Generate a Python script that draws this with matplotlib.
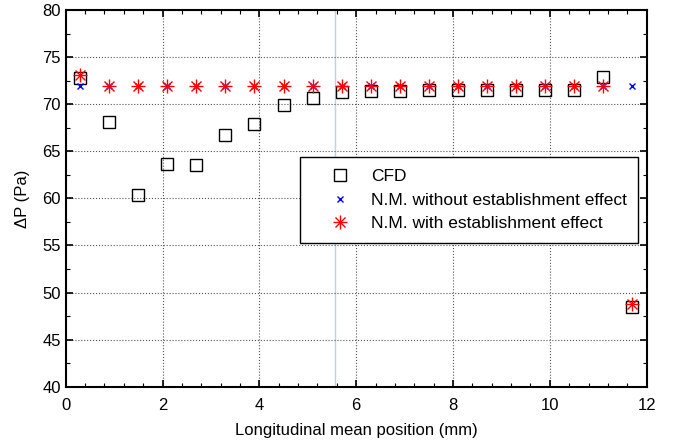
import matplotlib
matplotlib.use("Agg")
import matplotlib.pyplot as plt
from matplotlib.ticker import MultipleLocator
from matplotlib.lines import Line2D
from matplotlib.legend_handler import HandlerBase

plt.rcParams['font.family'] = ['Liberation Sans', 'DejaVu Sans']

x = [0.3, 0.9, 1.5, 2.1, 2.7, 3.3, 3.9, 4.5, 5.1, 5.7, 6.3, 6.9, 7.5, 8.1, 8.7, 9.3, 9.9, 10.5, 11.1, 11.7]
cfd = [72.8, 68.1, 60.4, 63.6, 63.5, 66.7, 67.9, 69.9, 70.7, 71.3, 71.4, 71.4, 71.5, 71.5, 71.5, 71.5, 71.5, 71.5, 72.85, 48.5]
nm_without = [71.9, 71.9, 71.9, 71.9, 71.9, 71.9, 71.9, 71.9, 71.9, 71.9, 71.9, 71.9, 71.9, 71.9, 71.9, 71.9, 71.9, 71.9, 71.9, 71.9]
nm_with = [73.1, 71.9, 71.9, 71.9, 71.9, 71.9, 71.9, 71.9, 71.9, 71.9, 71.9, 71.9, 71.9, 71.9, 71.9, 71.9, 71.9, 71.9, 71.9, 48.75]
labels = ['CFD', 'N.M. without establishment effect', 'N.M. with establishment effect']

fig = plt.figure(figsize=(6.75, 4.43), dpi=100)
ax = fig.add_axes([0.0973, 0.127, 0.8607, 0.8503])

ax.axvline(5.57, color='#bcd0f0', lw=1.0, zorder=1)

ax.plot(x, cfd, linestyle='none', marker='s', markersize=8.5, markerfacecolor='none',
        markeredgecolor='black', markeredgewidth=1.0, zorder=3)
ax.plot(x, nm_without, linestyle='none', marker='x', markersize=5, color='blue',
        markeredgewidth=1.0, zorder=4)
ax.plot(x, nm_with, linestyle='none', marker='+', markersize=9.5, color='red',
        markeredgewidth=1.0, zorder=5)
ax.plot(x, nm_with, linestyle='none', marker='x', markersize=6.5, color='red',
        markeredgewidth=1.0, zorder=5)

h1 = Line2D([], [], linestyle='none', marker='s', markersize=8.5, markerfacecolor='none',
            markeredgecolor='black', markeredgewidth=1.0)
h2 = Line2D([], [], linestyle='none', marker='x', markersize=5, color='blue', markeredgewidth=1.0)


class Ast:
    pass


class AsteriskHandler(HandlerBase):
    def create_artists(self, legend, orig_handle, xdescent, ydescent, width, height, fontsize, trans):
        cx = width / 2 - xdescent
        cy = height / 2 - ydescent
        a = Line2D([cx], [cy], linestyle='none', marker='+', markersize=9.5, color='red',
                   markeredgewidth=1.0, transform=trans)
        b = Line2D([cx], [cy], linestyle='none', marker='x', markersize=6.5, color='red',
                   markeredgewidth=1.0, transform=trans)
        return [a, b]


leg = ax.legend([h1, h2, Ast()], labels,
                handler_map={Ast: AsteriskHandler()},
                loc='upper right', bbox_to_anchor=(0.985, 0.609), fontsize=12.5,
                fancybox=False, framealpha=1, edgecolor='black', borderpad=0.65,
                handlelength=3.2, handletextpad=0.2, labelspacing=0.5, borderaxespad=0)
leg.get_frame().set_linewidth(1.0)

ax.set_xlim(0, 12)
ax.set_ylim(40, 80)
ax.xaxis.set_major_locator(MultipleLocator(2))
ax.xaxis.set_minor_locator(MultipleLocator(0.4))
ax.yaxis.set_major_locator(MultipleLocator(5))
ax.yaxis.set_minor_locator(MultipleLocator(2.5))
ax.tick_params(which='both', direction='in', top=True, right=True, labelsize=12)
ax.tick_params(axis='x', which='major', pad=8)
ax.tick_params(which='major', length=5, width=1.2)
ax.tick_params(which='minor', length=3, width=0.8)
ax.grid(True, which='major', linestyle=':', color='#555555', linewidth=0.8)
for s in ax.spines.values():
    s.set_linewidth(1.5)

ax.set_xlabel('Longitudinal mean position (mm)', fontsize=12, labelpad=7)
ax.set_ylabel('ΔP (Pa)', fontsize=12, labelpad=9)

fig.savefig('out.png', dpi=100)
